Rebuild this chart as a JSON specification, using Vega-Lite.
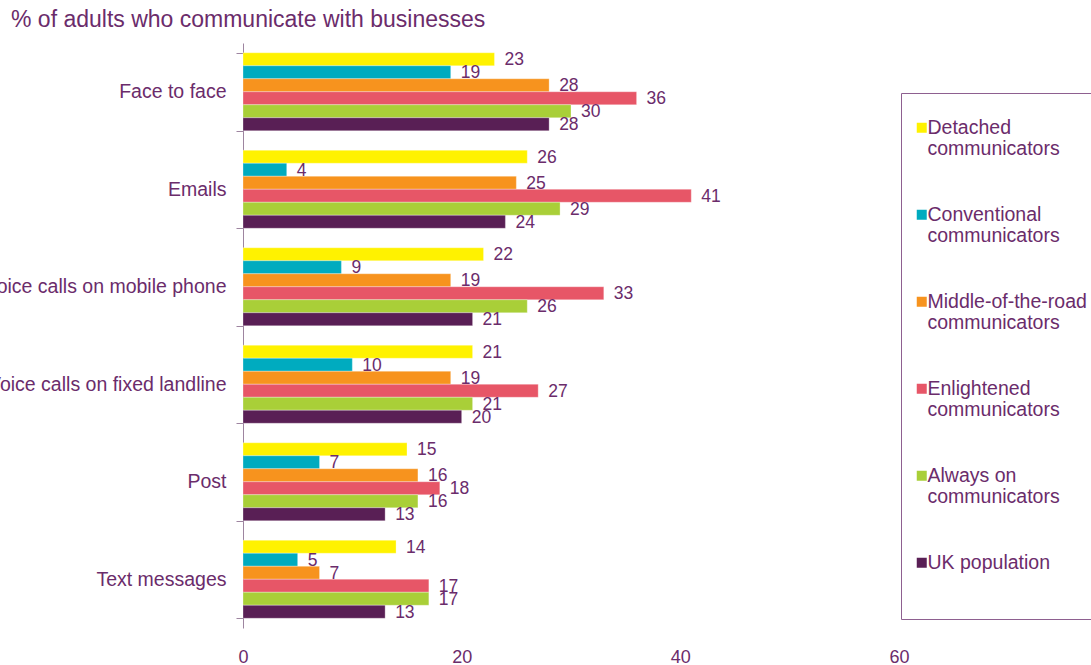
{
  "$schema": "https://vega.github.io/schema/vega-lite/v6.json",
  "width": 656,
  "height": 585,
  "autosize": "none",
  "padding": {"left": 243, "top": 43, "right": 192, "bottom": 37},
  "background": "white",
  "title": {
    "text": "% of adults who communicate with businesses",
    "anchor": "start",
    "frame": "group",
    "dx": -232,
    "dy": 22,
    "fontSize": 23,
    "font": "Liberation Sans",
    "fontWeight": "normal",
    "color": "#6B2C6B",
    "offset": 0,
    "baseline": "bottom"
  },
  "config": {
    "view": {"stroke": null},
    "font": "Liberation Sans"
  },
  "data": {
    "values": [
      {"cat": "Face to face", "series": "Detached communicators", "value": 23},
      {"cat": "Face to face", "series": "Conventional communicators", "value": 19},
      {"cat": "Face to face", "series": "Middle-of-the-road communicators", "value": 28},
      {"cat": "Face to face", "series": "Enlightened communicators", "value": 36},
      {"cat": "Face to face", "series": "Always on communicators", "value": 30},
      {"cat": "Face to face", "series": "UK population", "value": 28},
      {"cat": "Emails", "series": "Detached communicators", "value": 26},
      {"cat": "Emails", "series": "Conventional communicators", "value": 4},
      {"cat": "Emails", "series": "Middle-of-the-road communicators", "value": 25},
      {"cat": "Emails", "series": "Enlightened communicators", "value": 41},
      {"cat": "Emails", "series": "Always on communicators", "value": 29},
      {"cat": "Emails", "series": "UK population", "value": 24},
      {"cat": "Voice calls on mobile phone", "series": "Detached communicators", "value": 22},
      {"cat": "Voice calls on mobile phone", "series": "Conventional communicators", "value": 9},
      {"cat": "Voice calls on mobile phone", "series": "Middle-of-the-road communicators", "value": 19},
      {"cat": "Voice calls on mobile phone", "series": "Enlightened communicators", "value": 33},
      {"cat": "Voice calls on mobile phone", "series": "Always on communicators", "value": 26},
      {"cat": "Voice calls on mobile phone", "series": "UK population", "value": 21},
      {"cat": "Voice calls on fixed landline", "series": "Detached communicators", "value": 21},
      {"cat": "Voice calls on fixed landline", "series": "Conventional communicators", "value": 10},
      {"cat": "Voice calls on fixed landline", "series": "Middle-of-the-road communicators", "value": 19},
      {"cat": "Voice calls on fixed landline", "series": "Enlightened communicators", "value": 27},
      {"cat": "Voice calls on fixed landline", "series": "Always on communicators", "value": 21},
      {"cat": "Voice calls on fixed landline", "series": "UK population", "value": 20},
      {"cat": "Post", "series": "Detached communicators", "value": 15},
      {"cat": "Post", "series": "Conventional communicators", "value": 7},
      {"cat": "Post", "series": "Middle-of-the-road communicators", "value": 16},
      {"cat": "Post", "series": "Enlightened communicators", "value": 18},
      {"cat": "Post", "series": "Always on communicators", "value": 16},
      {"cat": "Post", "series": "UK population", "value": 13},
      {"cat": "Text messages", "series": "Detached communicators", "value": 14},
      {"cat": "Text messages", "series": "Conventional communicators", "value": 5},
      {"cat": "Text messages", "series": "Middle-of-the-road communicators", "value": 7},
      {"cat": "Text messages", "series": "Enlightened communicators", "value": 17},
      {"cat": "Text messages", "series": "Always on communicators", "value": 17},
      {"cat": "Text messages", "series": "UK population", "value": 13}
    ]
  },
  "encoding": {
    "y": {
      "field": "cat",
      "type": "nominal",
      "sort": null,
      "scale": {"paddingInner": 0.2, "paddingOuter": 0.1},
      "axis": {
        "title": null,
        "tickBand": "extent",
        "tickSize": 7,
        "tickColor": "#9E85A0",
        "domainColor": "#9E85A0",
        "labelFontSize": 19.5,
        "labelColor": "#6B2C6B",
        "labelPadding": 10,
        "labelLimit": 400,
        "grid": false
      }
    },
    "yOffset": {
      "field": "series",
      "type": "nominal",
      "sort": ["Detached communicators", "Conventional communicators", "Middle-of-the-road communicators", "Enlightened communicators", "Always on communicators", "UK population"],
      "scale": {"paddingInner": 0, "paddingOuter": 0}
    },
    "x": {
      "field": "value",
      "type": "quantitative",
      "scale": {"domain": [0, 60], "nice": false},
      "axis": {
        "title": null,
        "values": [0, 20, 40, 60],
        "domain": false,
        "ticks": false,
        "grid": false,
        "labelFontSize": 18,
        "labelColor": "#6B2C6B",
        "labelPadding": 20,
        "labelFlush": false
      }
    }
  },
  "layer": [
    {
      "mark": {"type": "bar", "stroke": "white", "strokeWidth": 0.5, "strokeOpacity": 0.6},
      "encoding": {
        "color": {
          "field": "series",
          "type": "nominal",
          "scale": {
            "domain": ["Detached communicators", "Conventional communicators", "Middle-of-the-road communicators", "Enlightened communicators", "Always on communicators", "UK population"],
            "range": ["#FFF200", "#00ABBF", "#F7931E", "#E75667", "#A9CF38", "#591F55"]
          },
          "legend": {
            "title": null,
            "orient": "none",
            "legendX": 658,
            "legendY": 50,
            "direction": "vertical",
            "padding": 25,
            "symbolOffset": -14,
            "strokeColor": "#8E6090",
            "fillColor": "white",
            "symbolType": "square",
            "symbolSize": 100,
            "symbolStrokeWidth": 0,
            "labelFontSize": 19.5,
            "labelColor": "#6B2C6B",
            "labelLimit": 300,
            "labelOffset": -4,
            "rowPadding": 45,
            "labelExpr": "datum.label == 'UK population' ? ['UK population', ' '] : split(replace(datum.label, ' communicators', '|communicators'), '|')"
          }
        }
      }
    },
    {
      "mark": {"type": "text", "align": "left", "baseline": "middle", "dx": 10, "dy": 1, "fontSize": 17.5, "color": "#6B2C6B"},
      "encoding": {
        "text": {"field": "value", "type": "quantitative"}
      }
    }
  ]
}
